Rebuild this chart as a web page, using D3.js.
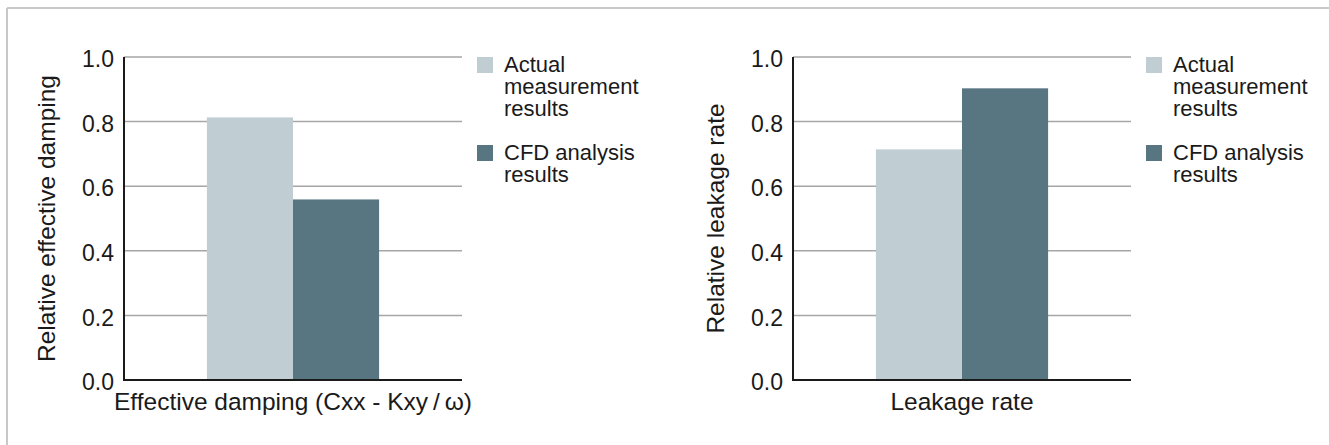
<!DOCTYPE html>
<html>
<head>
<meta charset="utf-8">
<script src="https://cdn.jsdelivr.net/npm/d3@7"></script>
<style>
  body { margin: 0; background: #fff; }
  svg text { font-family: "Liberation Sans", Arial, sans-serif; fill: #1a1a1a; }
</style>
</head>
<body>
<div class="canvas"></div>
<script>
const seriesNames = ["Actual measurement results", "CFD analysis results"];
const legendLines = [["Actual", "measurement", "results"], ["CFD analysis", "results"]];
const colors = ["#c0ced4", "#587582"];
const yTicks = [0, 0.2, 0.4, 0.6, 0.8, 1.0];

const dampingCategory = ["Effective damping (Cxx - Kxy\u2009/\u2009\u03c9)"];
const dampingValues = [0.813, 0.559];
const leakageCategory = ["Leakage rate"];
const leakageValues = [0.714, 0.903];

const width = 1329;
const height = 445;
const panelWidth = 669;
const margin = { top: 57, left: 124, plotWidth: 338, plotHeight: 323 };

const svg = d3
  .select(".canvas")
  .append("svg")
  .attr("width", width)
  .attr("height", height);

// frame (only top and left edges visible)
svg.append("line").attr("x1", 7).attr("x2", width).attr("y1", 8).attr("y2", 8)
  .attr("stroke", "#c8c8c8").attr("stroke-width", 2);
svg.append("line").attr("x1", 7).attr("x2", 7).attr("y1", 8).attr("y2", height)
  .attr("stroke", "#c8c8c8").attr("stroke-width", 2);

drawPanel(0, dampingCategory, dampingValues, "Relative effective damping");
drawPanel(panelWidth, leakageCategory, leakageValues, "Relative leakage rate");

function drawPanel(offset, category, values, yTitle) {
  const g = svg
    .append("g")
    .attr("transform", `translate(${offset + margin.left}, ${margin.top})`);

  const y = d3.scaleLinear().domain([0, 1]).range([margin.plotHeight, 0]);
  const x0 = d3
    .scaleBand()
    .domain(category)
    .range([0, margin.plotWidth])
    .padding(0.325);
  const x1 = d3
    .scaleBand()
    .domain(seriesNames)
    .range([0, x0.bandwidth()]);

  // grid lines
  g.append("g")
    .selectAll("line")
    .data(yTicks.filter((t) => t > 0))
    .enter()
    .append("line")
    .attr("x1", 0)
    .attr("x2", margin.plotWidth)
    .attr("y1", (d) => y(d))
    .attr("y2", (d) => y(d))
    .attr("stroke", "#a6a6a6")
    .attr("stroke-width", 1.5);

  // bars
  g.append("g")
    .selectAll("rect")
    .data(values.map((v, i) => ({ name: seriesNames[i], value: v, cat: category[0] })))
    .enter()
    .append("rect")
    .attr("x", (d) => x0(d.cat) + x1(d.name))
    .attr("y", (d) => y(d.value))
    .attr("width", x1.bandwidth())
    .attr("height", (d) => y(0) - y(d.value))
    .attr("fill", (d, i) => colors[i]);

  // y axis
  const yAxis = g
    .append("g")
    .call(d3.axisLeft(y).tickValues(yTicks).tickFormat(d3.format(".1f")).tickSize(0).tickPadding(10));
  yAxis.select(".domain").remove();
  yAxis
    .selectAll("text")
    .attr("font-size", 23)
    .attr("font-family", "Liberation Sans, Arial, sans-serif")
    .attr("fill", "#1a1a1a")
    .attr("dy", "0.42em");

  g.append("line")
    .attr("x1", 0).attr("x2", 0)
    .attr("y1", 0).attr("y2", margin.plotHeight)
    .attr("stroke", "#1a1a1a").attr("stroke-width", 2);
  g.append("line")
    .attr("x1", -1).attr("x2", margin.plotWidth)
    .attr("y1", margin.plotHeight).attr("y2", margin.plotHeight)
    .attr("stroke", "#1a1a1a").attr("stroke-width", 2);

  // axis titles
  g.append("text")
    .text(category[0])
    .attr("x", margin.plotWidth / 2)
    .attr("y", margin.plotHeight + 30)
    .attr("text-anchor", "middle")
    .attr("font-size", 24.5);

  g.append("text")
    .text(yTitle)
    .attr("transform", `translate(-69, ${margin.plotHeight / 2}) rotate(-90)`)
    .attr("text-anchor", "middle")
    .attr("font-size", 24.5);

  // legend
  const legend = g
    .append("g")
    .attr("transform", `translate(${margin.plotWidth + 15}, 0)`);
  const itemTops = [0, 88];
  const item = legend
    .selectAll("g")
    .data(legendLines)
    .enter()
    .append("g")
    .attr("transform", (d, i) => `translate(0, ${itemTops[i]})`);
  item
    .append("rect")
    .attr("width", 16)
    .attr("height", 16)
    .attr("fill", (d, i) => colors[i]);
  item
    .append("text")
    .attr("font-size", 22)
    .selectAll("tspan")
    .data((d) => d)
    .enter()
    .append("tspan")
    .attr("x", 27)
    .attr("y", (d, i) => 15 + i * 22)
    .text((d) => d);
}
</script>
</body>
</html>
